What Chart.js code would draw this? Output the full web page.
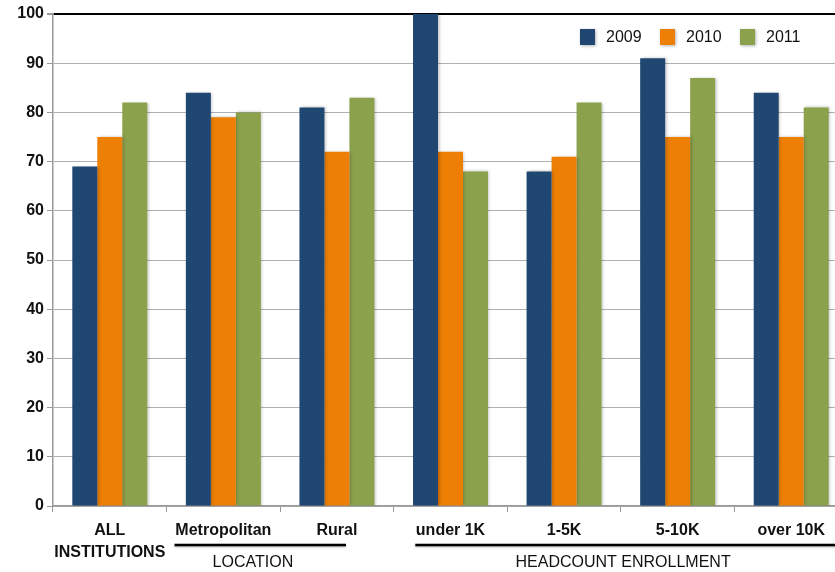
<!DOCTYPE html>
<html>
<head>
<meta charset="utf-8">
<script src="https://cdn.jsdelivr.net/npm/chart.js@4.4.1/dist/chart.umd.min.js"></script>
<style>
  html, body { margin: 0; padding: 0; background: #fff; overflow: hidden; }
  #wrap { width: 835px; height: 572px; overflow: hidden; }
</style>
</head>
<body>
<div id="wrap"><canvas id="chart" width="848" height="572"></canvas></div>
<script>
// ---- data ----
const categories = [['ALL', 'INSTITUTIONS'], 'Metropolitan', 'Rural', 'under 1K', '1-5K', '5-10K', 'over 10K'];
const seriesNames = ['2009', '2010', '2011'];
const values2009 = [69, 84, 81, 100, 68, 91, 84];
const values2010 = [75, 79, 72, 72, 71, 75, 75];
const values2011 = [82, 80, 83, 68, 82, 87, 81];
const yTicks = [0, 10, 20, 30, 40, 50, 60, 70, 80, 90, 100];
const groupNames = ['LOCATION', 'HEADCOUNT ENROLLMENT'];

// ---- style ----
const colors = ['#1f4771', '#ed7f05', '#8ba14b'];
const NARROW = "'Liberation Sans Narrow', 'Arial Narrow', 'Liberation Sans', sans-serif";
const REGULAR = "'Liberation Sans', Arial, sans-serif";
// group bracket positions in category units (start, end, label centre)
const groupSpans = [[0.57, 2.08, 1.26], [2.69, 7.2, 4.52]];

const barShadow = {
  id: 'barShadow',
  beforeDatasetsDraw(chart) {
    const ctx = chart.ctx;
    ctx.save();
    ctx.shadowColor = 'rgba(0,0,0,0.25)';
    ctx.shadowBlur = 3;
    ctx.shadowOffsetX = 1.5;
    ctx.shadowOffsetY = 0;
  },
  afterDatasetsDraw(chart) {
    chart.ctx.restore();
  }
};

const groupBrackets = {
  id: 'groupBrackets',
  afterDraw(chart) {
    const ctx = chart.ctx;
    const x = chart.scales.x;
    ctx.save();
    groupSpans.forEach((g, i) => {
      const x0 = x.getPixelForValue(g[0]);
      const x1 = x.getPixelForValue(g[1]);
      ctx.shadowColor = 'rgba(0,0,0,0.3)';
      ctx.shadowBlur = 2;
      ctx.shadowOffsetY = 1;
      ctx.strokeStyle = '#000';
      ctx.lineWidth = 2.5;
      ctx.beginPath();
      ctx.moveTo(x0, 545);
      ctx.lineTo(x1, 545);
      ctx.stroke();
      ctx.shadowColor = 'transparent';
      ctx.fillStyle = '#111';
      ctx.font = '16px ' + NARROW;
      ctx.textAlign = 'center';
      ctx.textBaseline = 'middle';
      ctx.fillText(groupNames[i], x.getPixelForValue(g[2]), 563);
    });
    ctx.restore();
  }
};

const insideLegend = {
  id: 'insideLegend',
  afterDraw(chart) {
    const ctx = chart.ctx;
    ctx.save();
    chart.data.datasets.forEach((ds, i) => {
      const lx = 580 + i * 80;
      ctx.shadowColor = 'rgba(0,0,0,0.3)';
      ctx.shadowBlur = 3;
      ctx.shadowOffsetX = 1;
      ctx.shadowOffsetY = 1;
      ctx.fillStyle = ds.backgroundColor;
      ctx.fillRect(lx, 29, 15, 16);
      ctx.shadowColor = 'transparent';
      ctx.fillStyle = '#111';
      ctx.font = '16px ' + REGULAR;
      ctx.textAlign = 'left';
      ctx.textBaseline = 'middle';
      ctx.fillText(ds.label, lx + 26, 38);
    });
    ctx.restore();
  }
};

new Chart(document.getElementById('chart'), {
  type: 'bar',
  data: {
    labels: categories,
    datasets: [values2009, values2010, values2011].map((d, i) => ({
      label: seriesNames[i],
      data: d,
      backgroundColor: colors[i],
      borderWidth: 0,
      categoryPercentage: 0.66,
      barPercentage: 1.0
    }))
  },
  options: {
    responsive: false,
    animation: false,
    devicePixelRatio: 1,
    layout: { padding: { top: 14, left: 0, right: 0, bottom: 0 } },
    plugins: {
      legend: { display: false },
      tooltip: { enabled: false }
    },
    scales: {
      x: {
        offset: true,
        grid: {
          offset: true,
          drawOnChartArea: false,
          drawTicks: true,
          tickLength: 6,
          color: '#9a9a9a'
        },
        border: { color: '#9a9a9a', width: 1.5 },
        ticks: {
          autoSkip: false,
          maxRotation: 0,
          padding: 8,
          color: '#111',
          font: { family: NARROW, size: 16, weight: 'bold', lineHeight: 1.35 }
        },
        afterFit(scale) { scale.height = 66; }
      },
      y: {
        min: 0,
        max: 100,
        afterBuildTicks(scale) { scale.ticks = yTicks.map(v => ({ value: v })); },
        grid: {
          color: ctx => (ctx.tick && ctx.tick.value === 100) ? '#000' : '#b0b0b0',
          lineWidth: ctx => (ctx.tick && ctx.tick.value === 100) ? 2 : 1,
          tickLength: 6,
          tickColor: '#9a9a9a'
        },
        border: { color: '#9a9a9a', width: 1.5 },
        ticks: {
          padding: 3,
          color: '#111',
          font: { family: NARROW, size: 16, weight: 'bold' }
        },
        afterFit(scale) { scale.width = 53; }
      }
    }
  },
  plugins: [barShadow, groupBrackets, insideLegend]
});
</script>
</body>
</html>
